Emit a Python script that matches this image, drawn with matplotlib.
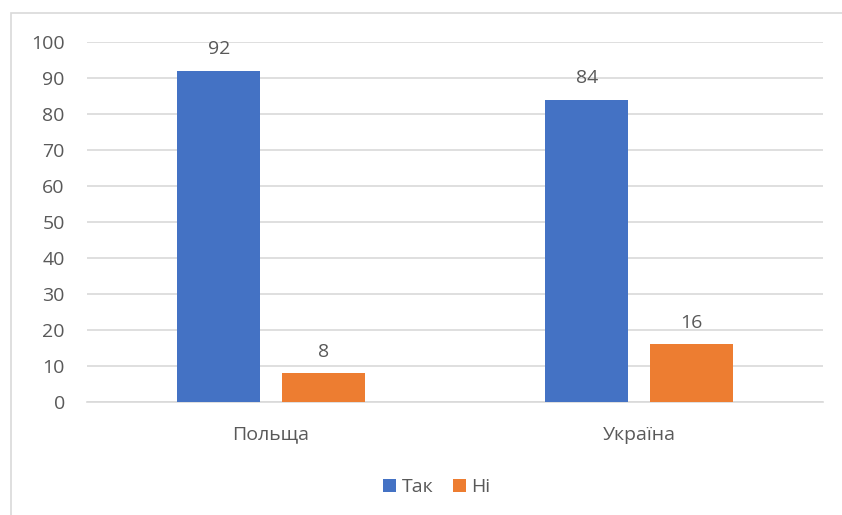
import matplotlib.pyplot as plt
from matplotlib.patches import Rectangle
import numpy as np

categories = ["Польща", "Україна"]
series_names = ["Так", "Ні"]
yes_values = [92, 84]
no_values = [8, 16]
y_ticks = [0, 10, 20, 30, 40, 50, 60, 70, 80, 90, 100]

blue = "#4472C4"
orange = "#ED7D31"
text_color = "#595959"
grid_color = "#D9D9D9"
fs = 14

plt.rcParams["font.family"] = ["Open Sans", "DejaVu Sans"]

fig = plt.figure(figsize=(8.42, 5.15), dpi=100)
fig.patches.append(Rectangle((10.5 / 842, -0.1), 1.2, 1 - 12.5 / 515 + 0.1,
                             transform=fig.transFigure, fill=False,
                             edgecolor="#D9D9D9", linewidth=1.2))

ax = fig.add_axes([87 / 842, 1 - 402 / 515, (823 - 87) / 842, 360 / 515])

x = np.arange(len(categories))
width = 0.225
offset = 0.142
bars_yes = ax.bar(x - offset, yes_values, width, color=blue, label=series_names[0], zorder=3)
bars_no = ax.bar(x + offset, no_values, width, color=orange, label=series_names[1], zorder=3)

for bars in (bars_yes, bars_no):
    for b in bars:
        ax.annotate(f"{b.get_height():g}", (b.get_x() + b.get_width() / 2, b.get_height()),
                    xytext=(0, 9), textcoords="offset points", ha="center", va="bottom",
                    fontsize=fs, color=text_color)

ax.set_xlim(-0.5, 1.5)
ax.set_ylim(0, 100)
ax.set_yticks(y_ticks)
ax.set_xticks(x)
ax.set_xticklabels(categories)
ax.grid(axis="y", color=grid_color, linewidth=1.2, zorder=0)
ax.tick_params(axis="y", length=0, pad=16, labelsize=fs, labelcolor=text_color)
ax.tick_params(axis="x", length=0, pad=17, labelsize=fs, labelcolor=text_color)
for s in ("top", "right", "left"):
    ax.spines[s].set_visible(False)
ax.spines["bottom"].set_color(grid_color)
ax.spines["bottom"].set_linewidth(1.2)

fig.legend(handles=[bars_yes, bars_no], labels=series_names, loc="center",
           bbox_to_anchor=(437 / 842, 1 - 487 / 515), ncol=2, frameon=False,
           fontsize=fs, labelcolor=text_color, handlelength=0.65, handleheight=0.65,
           handletextpad=0.3, columnspacing=1.0)

fig.savefig("out.png", dpi=100)
